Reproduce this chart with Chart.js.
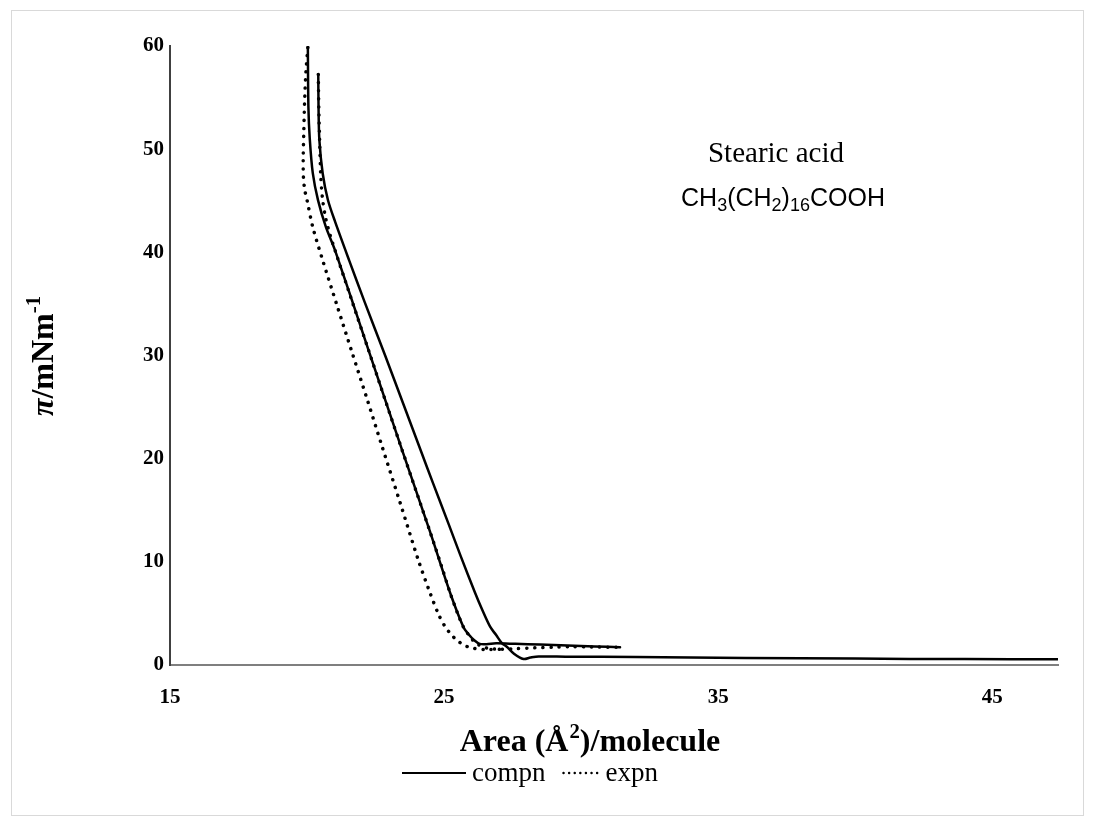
<!DOCTYPE html>
<html>
<head>
<meta charset="utf-8">
<script src="https://cdn.jsdelivr.net/npm/chart.js@4.4.1/dist/chart.umd.min.js"></script>
<style>
  html, body { margin: 0; padding: 0; background: #fff; }
  #wrap { position: relative; width: 1094px; height: 825px; }
  #frame { position: absolute; left: 11px; top: 10px; width: 1071px; height: 804px; border: 1px solid #d9d9d9; pointer-events: none; }
  canvas { position: absolute; left: 0; top: 0; }
</style>
</head>
<body>
<div id="wrap">
  <canvas id="isotherm" width="1094" height="825"></canvas>
  <div id="frame"></div>
</div>
<script>
// stearic acid isotherms
const xTicks = [15, 25, 35, 45];
const yTicks = [0, 10, 20, 30, 40, 50, 60];

// 1st compression (solid), from the large-area end
const compn1Area = [47.4, 44.0, 40.0, 36.0, 32.0, 29.5, 28.45, 28.15, 27.9, 27.55, 27.3, 27.1, 26.9, 26.68, 26.4, 26.13, 25.6, 25.16, 24.6, 24.19, 23.5, 22.85, 22.1, 21.54, 21.02, 20.76, 20.57, 20.45, 20.42, 20.41];
const compn1Pi   = [0.55, 0.57, 0.62, 0.68, 0.78, 0.8, 0.83, 0.72, 0.58, 1.1, 1.75, 2.15, 2.9, 3.71, 5.3, 7.0, 10.6, 13.7, 17.6, 20.5, 25.4, 30.0, 35.2, 39.2, 43.0, 45.1, 47.67, 50.87, 54.0, 57.24];

// 1st expansion (dotted)
const expn1Area = [20.41, 20.43, 20.46, 20.5, 20.56, 20.68, 20.84, 21.02, 21.6, 22.24, 22.85, 23.46, 24.0, 24.49, 24.88, 25.22, 25.48, 25.7, 25.9, 26.07, 26.3, 26.6, 27.0, 27.6, 28.3, 29.0, 29.6, 30.4, 31.42];
const expn1Pi   = [57.24, 54.0, 50.87, 47.5, 45.3, 43.3, 41.7, 40.21, 35.6, 30.55, 25.7, 20.9, 16.7, 12.9, 9.8, 7.0, 5.1, 3.71, 2.9, 2.35, 1.9, 1.62, 1.52, 1.58, 1.66, 1.72, 1.78, 1.74, 1.72];

// 2nd compression (solid)
const compn2Area = [31.42, 30.5, 29.5, 28.5, 27.6, 26.9, 26.55, 26.3, 26.1, 25.9, 25.7, 25.22, 24.49, 23.46, 22.24, 21.02, 20.69, 20.4, 20.21, 20.1, 20.05, 20.03];
const compn2Pi   = [1.72, 1.8, 1.9, 1.98, 2.05, 2.1, 2.02, 2.05, 2.4, 2.95, 3.71, 7.0, 12.9, 20.9, 30.55, 40.21, 42.44, 45.06, 47.67, 51.0, 54.07, 59.85];

// 2nd expansion (dotted)
const expn2Area = [20.03, 19.96, 19.91, 19.88, 19.86, 19.87, 19.92, 20.0, 20.21, 20.57, 21.1, 21.63, 22.2, 22.73, 23.4, 24.06, 24.49, 24.8, 25.04, 25.28, 25.46, 25.75, 26.01, 26.5, 27.1];
const expn2Pi   = [59.85, 57.5, 54.5, 51.5, 49.0, 47.2, 46.0, 45.06, 42.44, 39.24, 34.8, 30.4, 25.7, 21.25, 15.7, 10.17, 6.98, 4.9, 3.71, 2.9, 2.42, 1.9, 1.65, 1.5, 1.52];

const SERIF = "'Times New Roman', 'Liberation Serif', serif";
const SANS = "Arial, 'Liberation Sans', sans-serif";

const toPoints = (xs, ys) => xs.map((x, i) => ({ x: x, y: ys[i] }));

const solid = { borderColor: '#000', borderWidth: 2.5, borderCapStyle: 'round' };
const dotted = { borderColor: '#000', borderWidth: 3.5, borderDash: [0.1, 8], borderCapStyle: 'round' };

// text with sub/superscripts: runs of {t, mode, style}
function drawRuns(ctx, runs, x, y, size, family, weight, align, small) {
  const ratio = small || 0.65;
  const pieces = runs.map((r) => {
    const s = r.mode ? size * ratio : size;
    const font = `${r.style || ''} ${weight} ${s}px ${family}`;
    ctx.font = font;
    return { t: r.t, mode: r.mode, font: font, w: ctx.measureText(r.t).width, gap: r.gap || 0 };
  });
  const total = pieces.reduce((a, p) => a + p.w + p.gap, 0);
  let cx = align === 'center' ? x - total / 2 : x;
  ctx.textAlign = 'left';
  ctx.textBaseline = 'alphabetic';
  pieces.forEach((p) => {
    ctx.font = p.font;
    let dy = 0;
    if (p.mode === 'sub') dy = size * 0.2;
    if (p.mode === 'sup') dy = -size * 0.42;
    cx += p.gap;
    ctx.fillText(p.t, cx, y + dy);
    cx += p.w;
  });
  return cx;
}

const textPlugin = {
  id: 'extraText',
  afterDraw(chart) {
    const ctx = chart.ctx;
    ctx.save();
    ctx.fillStyle = '#000';

    // x axis title
    drawRuns(ctx, [{ t: 'Area (Å' }, { t: '2', mode: 'sup', gap: 1 }, { t: ')/molecule' }], 590, 751, 32, SERIF, 'bold', 'center');

    // y axis title
    ctx.save();
    ctx.translate(42, 356);
    ctx.rotate(-Math.PI / 2);
    drawRuns(ctx, [{ t: 'π', style: 'italic' }, { t: '/mNm' }, { t: '-1', mode: 'sup' }], 0, 11, 32, SERIF, 'bold', 'center');
    ctx.restore();

    // annotations
    drawRuns(ctx, [{ t: 'Stearic acid' }], 776, 162, 29, SERIF, 'normal', 'center');
    drawRuns(ctx, [{ t: 'CH' }, { t: '3', mode: 'sub' }, { t: '(CH' }, { t: '2', mode: 'sub' }, { t: ')' }, { t: '16', mode: 'sub' }, { t: 'COOH' }], 783, 206, 25, SANS, 'normal', 'center', 0.72);

    // legend
    const ds = chart.data.datasets;
    const items = [
      { d: ds[0], x0: 402, x1: 466, dash: [], w: 2 },
      { d: ds[1], x0: 0, x1: 0, dash: [0.1, 5.5], w: 2.4 }
    ];
    const ly = 773;
    const fs = 27;
    let cursor = 0;
    items.forEach((it, i) => {
      if (i === 1) { it.x0 = cursor + 18; it.x1 = it.x0 + 36; }
      ctx.save();
      ctx.strokeStyle = it.d.borderColor;
      ctx.lineWidth = it.w;
      ctx.lineCap = it.dash.length ? 'round' : 'butt';
      ctx.setLineDash(it.dash);
      ctx.beginPath();
      ctx.moveTo(it.x0, ly);
      ctx.lineTo(it.x1, ly);
      ctx.stroke();
      ctx.restore();
      cursor = drawRuns(ctx, [{ t: it.d.label }], it.x1 + 6, ly + 8, fs, SERIF, 'normal', 'left');
    });
    ctx.restore();
  }
};

const ctx = document.getElementById('isotherm').getContext('2d');
new Chart(ctx, {
  type: 'scatter',
  data: {
    datasets: [
      { label: 'compn', data: toPoints(compn1Area, compn1Pi), ...solid },
      { label: 'expn', data: toPoints(expn1Area, expn1Pi), ...dotted },
      { label: 'compn', data: toPoints(compn2Area, compn2Pi), ...solid },
      { label: 'expn', data: toPoints(expn2Area, expn2Pi), ...dotted },
    ].map((d) => ({ ...d, showLine: true, pointRadius: 0, pointHoverRadius: 0, tension: 0.3 })),
  },
  options: {
    responsive: false,
    animation: false,
    events: [],
    layout: { padding: { left: 0, right: 36, top: 46, bottom: 0 } },
    plugins: {
      legend: { display: false },
      tooltip: { enabled: false },
    },
    scales: {
      x: {
        type: 'linear',
        min: 15,
        max: 47.4,
        afterBuildTicks: (s) => { s.ticks = xTicks.map((v) => ({ value: v })); },
        afterFit: (s) => { s.height = 160; },
        grid: { display: false, drawTicks: false },
        border: { display: true, color: '#7f7f7f', width: 2 },
        ticks: {
          padding: 20,
          color: '#000',
          font: { family: SERIF, size: 21, weight: 'bold' },
        },
      },
      y: {
        type: 'linear',
        min: 0,
        max: 60,
        afterBuildTicks: (s) => { s.ticks = yTicks.map((v) => ({ value: v })); },
        afterFit: (s) => { s.width = 170; },
        grid: { display: false, drawTicks: false },
        border: { display: true, color: '#404040', width: 2 },
        ticks: {
          padding: 6,
          color: '#000',
          font: { family: SERIF, size: 21, weight: 'bold' },
        },
      },
    },
  },
  plugins: [textPlugin],
});
</script>
</body>
</html>
